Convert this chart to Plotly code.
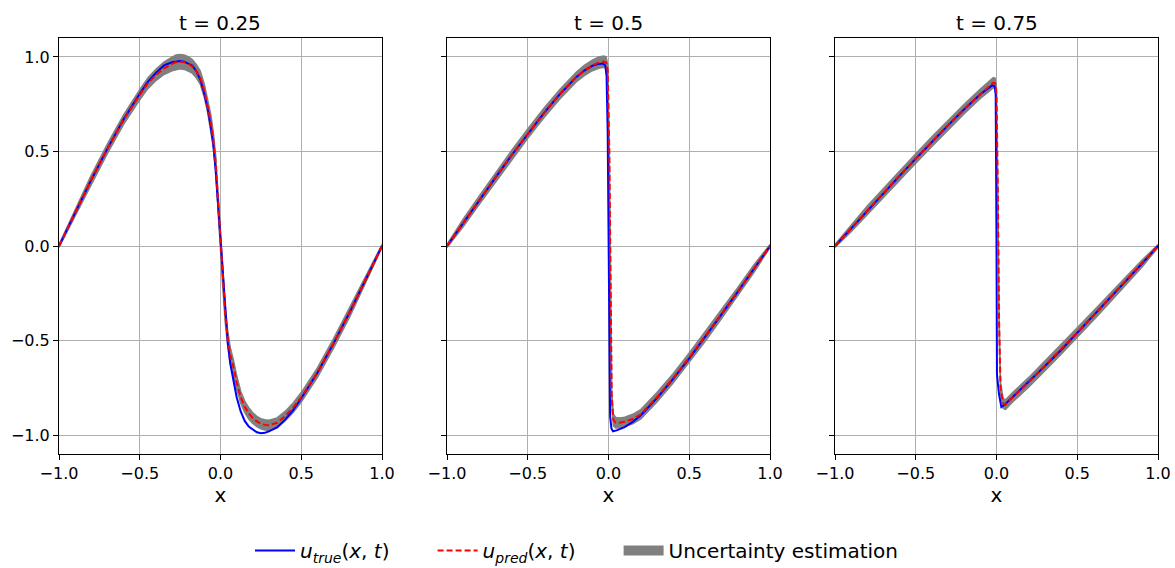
import plotly.graph_objects as go

# ---------------- data ----------------
times = ["0.25", "0.5", "0.75"]

# t = 0.25
x_true_1 = [-1, -0.9, -0.8, -0.7, -0.6, -0.5, -0.45, -0.4, -0.35, -0.3, -0.275, -0.25, -0.225, -0.2, -0.175,
            -0.15, -0.125, -0.1, -0.08, -0.06, -0.045, -0.03, -0.015, 0.0, 0.015, 0.03, 0.045, 0.06, 0.08, 0.1,
            0.125, 0.15, 0.175, 0.2, 0.225, 0.25, 0.275, 0.3, 0.35, 0.4, 0.45, 0.5, 0.6, 0.7, 0.8, 0.9, 1.0]
u_true_1 = [0, 0.176, 0.35, 0.515, 0.67, 0.805, 0.868, 0.915, 0.955, 0.972, 0.977, 0.978, 0.975, 0.965, 0.955,
            0.925, 0.88, 0.805, 0.73, 0.63, 0.54, 0.40, 0.21, 0.02, -0.17, -0.36, -0.51, -0.62, -0.72, -0.80,
            -0.875, -0.925, -0.955, -0.972, -0.985, -0.99, -0.988, -0.98, -0.96, -0.918, -0.868, -0.805, -0.67,
            -0.515, -0.35, -0.176, 0]
x_pred_1 = x_true_1
u_pred_1 = [0, 0.176, 0.35, 0.515, 0.668, 0.80, 0.86, 0.905, 0.94, 0.963, 0.972, 0.975, 0.972, 0.963, 0.95,
            0.925, 0.89, 0.82, 0.745, 0.655, 0.565, 0.44, 0.24, 0.02, -0.19, -0.37, -0.49, -0.575, -0.64, -0.72,
            -0.80, -0.85, -0.885, -0.91, -0.928, -0.94, -0.946, -0.948, -0.935, -0.9, -0.855, -0.80, -0.67,
            -0.515, -0.35, -0.176, 0]
band_1 = [0.008, 0.02, 0.025, 0.025, 0.025, 0.027, 0.028, 0.03, 0.033, 0.036, 0.038, 0.038, 0.038, 0.038,
          0.036, 0.035, 0.035, 0.035, 0.037, 0.04, 0.04, 0.04, 0.04, 0.04, 0.04, 0.04, 0.04, 0.04, 0.038, 0.035,
          0.032, 0.03, 0.03, 0.028, 0.027, 0.027, 0.027, 0.027, 0.026, 0.025, 0.025, 0.025, 0.025, 0.025, 0.025,
          0.02, 0.008]

# t = 0.5
x_true_2 = [-1, -0.9, -0.8, -0.7, -0.6, -0.5, -0.4, -0.3, -0.2, -0.15, -0.1, -0.06, -0.035, -0.02, -0.012,
            -0.005, 0.0, 0.004, 0.01, 0.018, 0.028, 0.05, 0.1, 0.15, 0.2, 0.3, 0.4, 0.5, 0.6, 0.7, 0.8, 0.9, 1.0]
u_true_2 = [0, 0.122, 0.243, 0.362, 0.48, 0.594, 0.703, 0.804, 0.893, 0.928, 0.953, 0.963, 0.965, 0.955, 0.90,
            0.60, 0.0, -0.60, -0.90, -0.965, -0.98, -0.975, -0.958, -0.93, -0.895, -0.804, -0.703, -0.594, -0.48,
            -0.362, -0.243, -0.122, 0]
x_pred_2 = [-1, -0.9, -0.8, -0.7, -0.6, -0.5, -0.4, -0.3, -0.2, -0.15, -0.1, -0.06, -0.03, -0.015, -0.005,
            0.005, 0.012, 0.02, 0.03, 0.045, 0.07, 0.1, 0.15, 0.2, 0.3, 0.4, 0.5, 0.6, 0.7, 0.8, 0.9, 1.0]
u_pred_2 = [0, 0.122, 0.243, 0.362, 0.48, 0.594, 0.703, 0.804, 0.893, 0.928, 0.955, 0.97, 0.975, 0.97, 0.93,
            0.5, -0.3, -0.8, -0.92, -0.935, -0.935, -0.93, -0.915, -0.89, -0.80, -0.70, -0.59, -0.478, -0.36,
            -0.242, -0.12, 0]
band_2 = [0.008, 0.02, 0.022, 0.024, 0.025, 0.025, 0.025, 0.025, 0.025, 0.027, 0.028, 0.03, 0.03, 0.03, 0.03,
          0.03, 0.03, 0.03, 0.03, 0.028, 0.026, 0.025, 0.025, 0.025, 0.025, 0.025, 0.025, 0.025, 0.024, 0.022,
          0.02, 0.008]

# t = 0.75
x_true_3 = [-1, -0.9, -0.8, -0.7, -0.6, -0.5, -0.4, -0.3, -0.2, -0.1, -0.05, -0.025, -0.012, -0.005, 0.0, 0.003,
            0.015, 0.03, 0.05, 0.1, 0.2, 0.3, 0.4, 0.5, 0.6, 0.7, 0.8, 0.9, 1.0]
u_true_3 = [0, 0.094, 0.187, 0.279, 0.371, 0.462, 0.551, 0.638, 0.723, 0.803, 0.835, 0.85, 0.845, 0.80, 0.0,
            -0.68, -0.78, -0.852, -0.84, -0.80, -0.72, -0.635, -0.55, -0.46, -0.37, -0.278, -0.186, -0.094, 0]
x_pred_3 = [-1, -0.9, -0.8, -0.7, -0.6, -0.5, -0.4, -0.3, -0.2, -0.1, -0.05, -0.02, -0.008, 0.0, 0.008, 0.016,
            0.025, 0.04, 0.055, 0.1, 0.2, 0.3, 0.4, 0.5, 0.6, 0.7, 0.8, 0.9, 1.0]
u_pred_3 = [0, 0.094, 0.19, 0.28, 0.372, 0.463, 0.552, 0.64, 0.725, 0.805, 0.84, 0.864, 0.86, 0.80, 0.3, -0.4,
            -0.75, -0.83, -0.84, -0.80, -0.72, -0.634, -0.548, -0.458, -0.368, -0.277, -0.186, -0.094, 0]
band_3 = [0.008, 0.018, 0.022, 0.024, 0.025, 0.025, 0.025, 0.025, 0.025, 0.025, 0.025, 0.027, 0.027, 0.027,
          0.027, 0.027, 0.027, 0.027, 0.025, 0.025, 0.025, 0.025, 0.025, 0.025, 0.024, 0.023, 0.022, 0.018, 0.008]

x_ticks = [-1.0, -0.5, 0.0, 0.5, 1.0]
x_ticktext = ["\u22121.0", "\u22120.5", "0.0", "0.5", "1.0"]
y_ticks = [-1.0, -0.5, 0.0, 0.5, 1.0]
y_ticktext = ["\u22121.0", "\u22120.5", "0.0", "0.5", "1.0"]

legend_names = [
    "<i>u</i><sub><i>true</i></sub>(<i>x</i>, <i>t</i>)",
    "<i>u</i><sub><i>pred</i></sub>(<i>x</i>, <i>t</i>)",
    "Uncertainty estimation",
]

panels = [
    (x_true_1, u_true_1, x_pred_1, u_pred_1, band_1),
    (x_true_2, u_true_2, x_pred_2, u_pred_2, band_2),
    (x_true_3, u_true_3, x_pred_3, u_pred_3, band_3),
]

# ---------------- figure ----------------
W, H = 1175, 568
px_dom = [(59, 382), (447, 770), (835, 1158)]
y_top, y_bot = 38, 454
FONT = "DejaVu Sans"
GRAY = "#808080"
PAD = "\u00a0" * 6  # spacing between legend entries

fig = go.Figure()
for i, (xt, ut, xp, up, bw) in enumerate(panels):
    n = i + 1
    xa = "x" if n == 1 else f"x{n}"
    ya = "y" if n == 1 else f"y{n}"
    upper = [u + b for u, b in zip(up, bw)]
    lower = [u - b for u, b in zip(up, bw)]
    fig.add_trace(go.Scatter(
        x=list(xp) + list(xp)[::-1], y=upper + lower[::-1],
        fill="toself", fillcolor=GRAY, mode="lines",
        line=dict(color=GRAY, width=1.5),
        showlegend=False, xaxis=xa, yaxis=ya, hoverinfo="skip"))
    fig.add_trace(go.Scatter(
        x=xt, y=ut, mode="lines", line=dict(color="#0000ff", width=2),
        name=legend_names[0] + PAD,
        showlegend=(n == 1), legendrank=1, xaxis=xa, yaxis=ya))
    fig.add_trace(go.Scatter(
        x=xp, y=up, mode="lines", line=dict(color="#ff0000", width=2, dash="6px,3px"),
        name=legend_names[1] + PAD,
        showlegend=(n == 1), legendrank=2, xaxis=xa, yaxis=ya))

# legend entry for the uncertainty band (a thick gray swatch)
fig.add_trace(go.Scatter(
    x=[None], y=[None], mode="lines", line=dict(color=GRAY, width=15),
    name=legend_names[2], showlegend=True, legendrank=3, xaxis="x", yaxis="y"))

layout = dict(
    width=W, height=H,
    margin=dict(l=0, r=0, t=0, b=0, autoexpand=False),
    paper_bgcolor="white", plot_bgcolor="white",
    font=dict(family=FONT, size=16, color="black"),
    showlegend=True,
    legend=dict(orientation="h", x=250 / W, xanchor="left", y=-2 / H, yanchor="bottom",
                font=dict(family=FONT, size=20), traceorder="normal", itemwidth=40,
                bgcolor="rgba(0,0,0,0)"),
)
annotations = []
for i, (l, r) in enumerate(px_dom):
    n = i + 1
    xkey = "xaxis" if n == 1 else f"xaxis{n}"
    ykey = "yaxis" if n == 1 else f"yaxis{n}"
    layout[xkey] = dict(
        domain=[l / W, r / W], range=[-1, 1], anchor="y" if n == 1 else f"y{n}",
        tickvals=x_ticks, ticktext=x_ticktext, ticks="outside", ticklen=5, tickwidth=1,
        tickcolor="black", showline=True, linecolor="black", linewidth=1, mirror=True,
        showgrid=True, gridcolor="#b0b0b0", gridwidth=1, zeroline=False,
        tickfont=dict(family=FONT, size=16),
        title=dict(text="x", font=dict(family=FONT, size=20), standoff=4),
        automargin=False)
    layout[ykey] = dict(
        domain=[1 - y_bot / H, 1 - y_top / H], range=[-1.1, 1.1], anchor="x" if n == 1 else f"x{n}",
        tickvals=y_ticks, ticktext=y_ticktext if n == 1 else [""] * 5, ticks="outside", ticklen=5,
        tickwidth=1, tickcolor="black", showline=True, linecolor="black", linewidth=1, mirror=True,
        showgrid=True, gridcolor="#b0b0b0", gridwidth=1, zeroline=False,
        tickfont=dict(family=FONT, size=16), automargin=False)
    annotations.append(dict(
        text=f"t = {times[i]}", x=(l + r) / 2 / W, y=1 - 23 / H, xref="paper", yref="paper",
        xanchor="center", yanchor="middle", showarrow=False, font=dict(family=FONT, size=20)))
layout["annotations"] = annotations
fig.update_layout(**layout)

fig.write_html("out.html")
